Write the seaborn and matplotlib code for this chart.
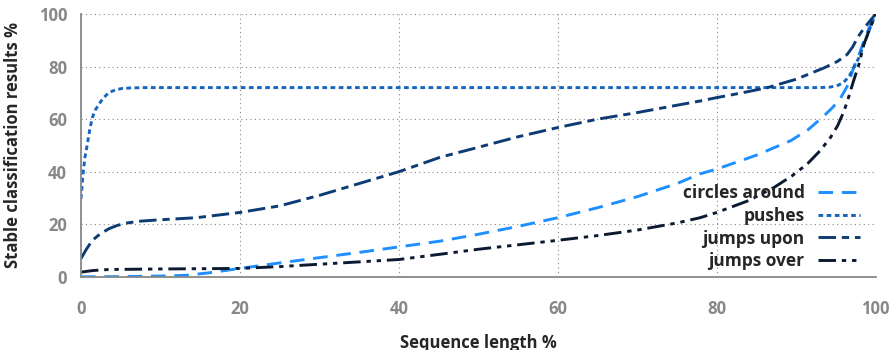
import numpy as np
import pandas as pd
import matplotlib
matplotlib.use("Agg")
import matplotlib.pyplot as plt
import seaborn as sns

# valores (x = % da sequencia, y = % de classificacao estavel)
circles_x = [0, 5, 10, 13.3, 16, 20, 25, 30, 35, 40, 45.2, 50, 55, 60, 65, 70, 75, 77.9, 80, 85, 89.3, 91.5,
             93.5, 94.6, 95.6, 96.5, 97.2, 97.9, 98.5, 99.2, 100]
circles_y = [0, 0.1, 0.3, 0.6, 1.5, 3.2, 5.3, 7.3, 9.3, 11.4, 13.6, 16.2, 19.2, 22.5, 26.3, 30.5, 35.5, 39.2, 41,
             46.3, 51.8, 56, 61.3, 64.5, 68.2, 73, 79.5, 84.5, 89.7, 95, 100]

pushes_x = [0, 0.25, 0.5, 0.8, 1.1, 1.43, 1.8, 2.27, 2.8, 3.5, 4.3, 5.2, 6.5, 8, 20, 40, 60, 80, 93, 94.3, 95.2,
            95.9, 96.6, 97.2, 97.9, 98.5, 99.2, 100]
pushes_y = [29.7, 39, 45.5, 50.5, 56, 60.6, 63.5, 65.7, 68, 70.1, 71.1, 71.7, 71.9, 72, 72, 72, 72, 72, 72, 72.2,
            72.8, 73.9, 76, 79.5, 83.5, 88.4, 94, 100]

upon_x = [0, 0.7, 1.43, 2.4, 3.5, 4.6, 5.8, 7.5, 9.9, 14.5, 20, 25, 30, 35, 40, 45.2, 50, 55, 60, 65, 70, 75,
          77.9, 80, 83, 86.4, 90, 93.5, 95.2, 96.4, 97.1, 97.7, 98.5, 99.3, 100]
upon_y = [7, 10.6, 13.9, 16.3, 18.3, 19.6, 20.5, 21.2, 21.7, 22.5, 24.5, 27, 31, 35.5, 40, 45.5, 49.3, 53.3,
          56.8, 60, 62.5, 65.3, 66.9, 68.2, 69.9, 72, 75.2, 79.5, 82, 84.6, 87.5, 91, 94.5, 97.5, 100]

over_x = [0, 1.5, 3.5, 10, 20, 25, 30, 35, 40, 45.2, 50, 55, 60, 65, 70, 75, 77.9, 80, 84, 87.2, 89.5, 91.4,
          93, 94.3, 95.2, 96, 96.6, 97.2, 97.9, 98.5, 99.2, 100]
over_y = [1.8, 2.4, 2.8, 3, 3.2, 3.9, 4.8, 5.7, 6.6, 8.6, 10.5, 12.2, 13.9, 15.7, 17.8, 20.5, 22.5, 24.5, 29,
          34, 38.5, 43, 48, 53, 57.5, 63, 68.5, 74.5, 81, 88.4, 94, 100]

series = [
    ("circles around", circles_x, circles_y, "#1e8fff", (5, 3)),
    ("pushes", pushes_x, pushes_y, "#1565c0", (1.6, 1.2)),
    ("jumps upon", upon_x, upon_y, "#0d3b73", (6, 2, 2.5, 2)),
    ("jumps over", over_x, over_y, "#0b1a30", (6, 2, 1.5, 2, 1.5, 2)),
]

sns.set_style("white")
plt.rcParams["font.family"] = ["Open Sans", "DejaVu Sans"]
plt.rcParams["font.weight"] = "bold"
plt.rcParams["font.stretch"] = "condensed"

fig = plt.figure(figsize=(8.9, 3.5), dpi=100)
ax = fig.add_axes([0.091, 0.209, 0.893, 0.751])

for name, xs, ys, color, dash in series:
    df = pd.DataFrame({"x": xs, "y": ys})
    sns.lineplot(data=df, x="x", y="y", ax=ax, color=color, lw=2.1, label=name)
    ax.lines[-1].set_dashes(dash)

ax.set_xlim(0, 100)
ax.set_ylim(0, 100)
ax.set_xticks([0, 20, 40, 60, 80, 100])
ax.set_yticks([0, 20, 40, 60, 80, 100])
ax.grid(True, linestyle=(0, (1, 3)), color="#888888", lw=0.8)
ax.set_axisbelow(True)

for s in ["top", "right"]:
    ax.spines[s].set_visible(False)
for s in ["left", "bottom"]:
    ax.spines[s].set_color("#888888")
    ax.spines[s].set_linewidth(1.3)

ax.tick_params(axis="both", colors="#888888", labelcolor="#888888", labelsize=12, width=1.2)
ax.tick_params(axis="x", length=9, pad=8)
ax.tick_params(axis="y", length=6, pad=4)
for t in ax.get_xticklabels() + ax.get_yticklabels():
    t.set_fontweight("bold")
    t.set_fontstretch("condensed")

ax.set_xlabel("Sequence length %", fontsize=12, fontweight="bold", labelpad=11)
ax.set_ylabel("Stable classification results %", fontsize=12, fontweight="bold", labelpad=12)

leg = ax.legend(loc="lower right", frameon=False, markerfirst=False, fontsize=12.5,
                handlelength=2.4, labelspacing=0.28, bbox_to_anchor=(1.0, -0.035))
for t in leg.get_texts():
    t.set_fontweight("bold")
leg._legend_box.align = "right"

fig.savefig("out.png", dpi=100)
